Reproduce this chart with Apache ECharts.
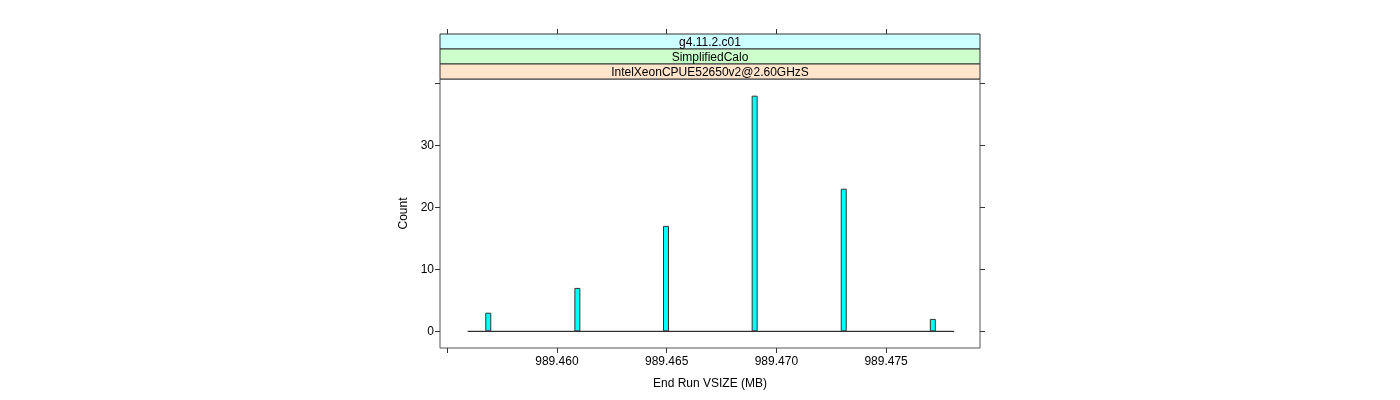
<!DOCTYPE html>
<html>
<head>
<meta charset="utf-8">
<script src="https://cdn.jsdelivr.net/npm/echarts@6/dist/echarts.min.js"></script>
<style>
  html, body { margin: 0; padding: 0; background: #fff; }
  #chart { width: 1400px; height: 400px; }
</style>
</head>
<body>
<div id="chart"></div>
<script>
// histogram bars (bin centres and counts)
const binCenters = [989.45687, 989.46093, 989.46497, 989.46901, 989.47307, 989.47713];
const counts = [3, 7, 17, 38, 23, 2];
// range covered by the histogram breaks (zero-height bins)
const breakRange = [989.45593, 989.47810];
const xTicks = [989.455, 989.460, 989.465, 989.470, 989.475];
const xLabels = [989.460, 989.465, 989.470, 989.475];
const yTicks = [0, 10, 20, 30, 40];
const yLabels = [0, 10, 20, 30];
const strips = ['g4.11.2.c01', 'SimplifiedCalo', 'IntelXeonCPUE52650v2@2.60GHzS'];
const stripColors = ['#ccffff', '#ccffcc', '#ffe5cc'];

const panel = { left: 440, top: 79, width: 540, height: 269 };
const stripH = 15;
const xMin = 989.45467, xMax = 989.47928;
const yMin = -2.69, yMax = 40.69;

const chart = echarts.init(document.getElementById('chart'));

const tickStyle = { show: true, length: 5, inside: false, lineStyle: { color: '#333', width: 1 } };
const labelFont = { fontFamily: 'Liberation Sans', fontSize: 12, color: '#000' };

// strips above the panel (top one first)
const stripGraphics = [];
strips.forEach((s, i) => {
  const y = panel.top - stripH * (strips.length - i);
  stripGraphics.push({
    type: 'rect',
    shape: { x: panel.left, y: y, width: panel.width, height: stripH },
    style: { fill: stripColors[i], stroke: '#333', lineWidth: 1 },
    z: 10
  });
  stripGraphics.push({
    type: 'text',
    x: panel.left + panel.width / 2,
    y: y + stripH / 2 + 1,
    style: { text: s, fill: '#000', font: '12px "Liberation Sans"', align: 'center', verticalAlign: 'middle' },
    z: 11
  });
});

chart.setOption({
  animation: false,
  grid: {
    left: panel.left, top: panel.top, width: panel.width, height: panel.height,
    show: true, borderColor: '#555', borderWidth: 1, backgroundColor: 'transparent'
  },
  graphic: stripGraphics,
  xAxis: [{
    type: 'value', min: xMin, max: xMax, position: 'bottom',
    name: 'End Run VSIZE (MB)', nameLocation: 'middle', nameGap: 30,
    nameTextStyle: labelFont,
    axisLine: { show: false, onZero: false },
    splitLine: { show: false },
    axisTick: Object.assign({ customValues: xTicks }, tickStyle),
    axisLabel: Object.assign({ customValues: xLabels, margin: 8, formatter: v => v.toFixed(3) }, labelFont)
  }, {
    type: 'value', min: xMin, max: xMax, position: 'top', offset: stripH * strips.length,
    axisLine: { show: false, onZero: false },
    splitLine: { show: false },
    axisTick: Object.assign({ customValues: xTicks }, tickStyle),
    axisLabel: { show: false }
  }],
  yAxis: [{
    type: 'value', min: yMin, max: yMax, position: 'left',
    name: 'Count', nameLocation: 'middle', nameGap: 30, nameRotate: 90,
    nameTextStyle: labelFont,
    axisLine: { show: false, onZero: false },
    splitLine: { show: false },
    axisTick: Object.assign({ customValues: yTicks }, tickStyle),
    axisLabel: Object.assign({ customValues: yLabels, margin: 6 }, labelFont)
  }, {
    type: 'value', min: yMin, max: yMax, position: 'right',
    axisLine: { show: false, onZero: false },
    splitLine: { show: false },
    axisTick: Object.assign({ customValues: yTicks }, tickStyle),
    axisLabel: { show: false }
  }],
  series: [{
    type: 'line',
    data: breakRange.map(x => [x, 0]),
    symbol: 'none',
    lineStyle: { color: '#000', width: 1 },
    z: 1
  }, {
    type: 'bar',
    data: binCenters.map((x, i) => [x, counts[i]]),
    barWidth: 6,
    itemStyle: { color: '#00ffff', borderColor: '#333', borderWidth: 1 },
    z: 2
  }]
});
</script>
</body>
</html>
